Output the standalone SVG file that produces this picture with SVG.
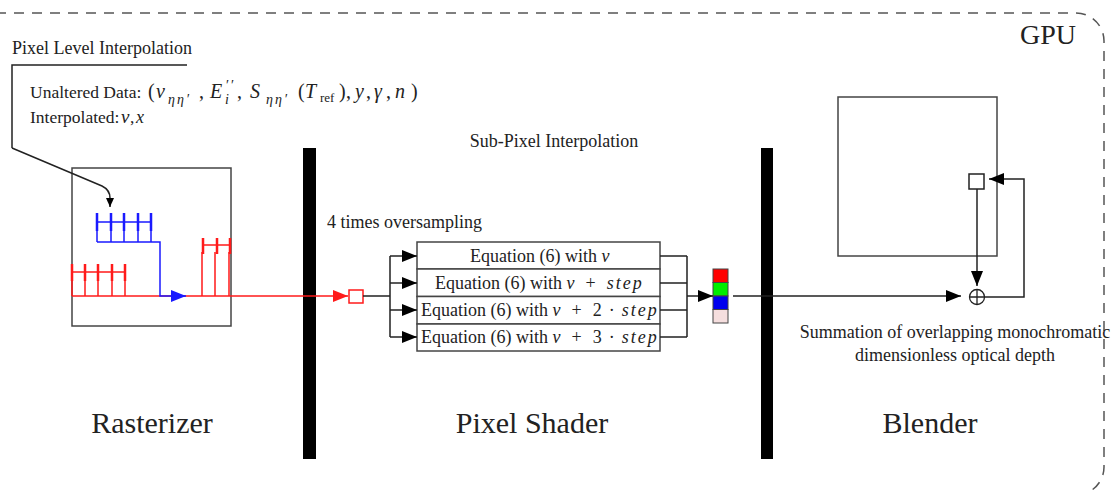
<svg xmlns="http://www.w3.org/2000/svg" width="1116" height="492" viewBox="0 0 1116 492">
<style>
text{font-family:"Liberation Serif","Times New Roman",serif;fill:#222}
.s17{font-size:17.5px}
.s18{font-size:18px}
.sub{font-size:14px;letter-spacing:2px}
.mm{font-size:20px;font-style:italic}
.big{font-size:30px}
.m{font-style:italic}
.ln{fill:none;stroke:#222;stroke-width:1.5}
.box{fill:#fff;stroke:#444;stroke-width:1.5}
.red{fill:none;stroke:#ff1a1a;stroke-width:1.5}
.redt{fill:none;stroke:#ff1a1a;stroke-width:2.5}
.blu{fill:none;stroke:#1a1aff;stroke-width:1.5}
.blut{fill:none;stroke:#1a1aff;stroke-width:2.5}
</style>
<defs>
<marker id="ak" markerUnits="userSpaceOnUse" markerWidth="15" markerHeight="12" refX="15" refY="6" orient="auto"><path d="M0,0 L15,6 L0,12 z" fill="#000"/></marker>
<marker id="ar" markerUnits="userSpaceOnUse" markerWidth="15" markerHeight="12" refX="15" refY="6" orient="auto"><path d="M0,0 L15,6 L0,12 z" fill="#ff1a1a"/></marker>
<marker id="ab" markerUnits="userSpaceOnUse" markerWidth="15" markerHeight="12" refX="15" refY="6" orient="auto"><path d="M0,0 L15,6 L0,12 z" fill="#1a1aff"/></marker>
<marker id="aks" markerUnits="userSpaceOnUse" markerWidth="9" markerHeight="8" refX="9" refY="4" orient="auto"><path d="M0,0 L9,4 L0,8 z" fill="#000"/></marker>
</defs>

<g id="gpu">
<rect x="-50" y="13" width="1154" height="482" rx="28" ry="28" fill="none" stroke="#555" stroke-width="1.5" stroke-dasharray="10 8"/>
<text x="1020" y="44" style="font-size:28px">GPU</text>
</g>

<g id="annotation">
<text x="12" y="54" class="s18">Pixel Level Interpolation</text>
<text class="s17"><tspan x="30" y="98">Unaltered Data:</tspan><tspan x="148" y="98" font-size="20">(</tspan><tspan class="mm" x="156" y="98">ν</tspan><tspan class="m sub" x="168" y="104">ηη′</tspan><tspan x="199" y="98" font-size="20">,</tspan><tspan class="mm" x="210" y="98">E</tspan><tspan class="sub" x="226" y="90">′′</tspan><tspan class="m sub" x="225" y="104">i</tspan><tspan x="237" y="98" font-size="20">,</tspan><tspan class="mm" x="250" y="98">S</tspan><tspan class="m sub" x="266" y="104">ηη′</tspan><tspan x="298" y="98" font-size="20">(</tspan><tspan class="mm" x="305" y="98">T</tspan><tspan x="320" y="102" style="font-size:13px;letter-spacing:0">ref</tspan><tspan x="339" y="98" font-size="20">)</tspan><tspan x="346" y="98" font-size="20">,</tspan><tspan class="mm" x="355" y="98">y</tspan><tspan x="366" y="98" font-size="20">,</tspan><tspan class="mm" x="374" y="98">γ</tspan><tspan x="386" y="98" font-size="20">,</tspan><tspan class="mm" x="395" y="98">n</tspan><tspan x="411" y="98" font-size="20">)</tspan></text>
<text class="s17"><tspan x="30" y="123">Interpolated:</tspan><tspan class="m" x="121" y="123" font-size="19">ν</tspan><tspan x="130" y="123">,</tspan><tspan class="m" x="136" y="123" font-size="18">x</tspan></text>
</g>

<g id="rasterizer">
<rect class="box" x="72" y="168" width="159" height="158"/>
<path class="blu" d="M97,222 H151 M97,222 V242 M111,222 V242 M124,222 V242 M138,222 V242 M151,222 V242"/>
<path class="blut" d="M97,213 V231 M111,213 V231 M124,213 V231 M138,213 V231 M151,213 V231"/>
<path class="red" d="M72,272 H125 M72,272 V296 M85,272 V296 M98,272 V296 M112,272 V296 M125,272 V296"/>
<path class="redt" d="M72,264 V281 M85,264 V281 M98,264 V281 M112,264 V281 M125,264 V281"/>
<path class="red" d="M203,245 H230 M202,252 V296 M215,252 V296 M229,252 V296"/>
<path class="redt" d="M203,238 V254 M217,238 V254 M230,238 V254"/>
<text x="152" y="433" text-anchor="middle" class="big">Rasterizer</text>
</g>

<g id="bar1"><rect x="303" y="148" width="13" height="311" fill="#000"/></g>
<g id="bar2"><rect x="761" y="148" width="12" height="311" fill="#000"/></g>

<g id="pixelshader">
<text x="554" y="147" text-anchor="middle" class="s18">Sub-Pixel Interpolation</text>
<text x="327" y="228" class="s18">4 times oversampling</text>
<rect class="box" x="417" y="242" width="243" height="27" stroke="#333"/>
<rect class="box" x="417" y="269" width="243" height="27.5" stroke="#333"/>
<rect class="box" x="417" y="296.5" width="243" height="27.5" stroke="#333"/>
<rect class="box" x="417" y="324" width="243" height="27" stroke="#333"/>
<text x="470" y="262" class="s18">Equation (6) with <tspan class="m">ν</tspan></text>
<text x="435" y="289" class="s18">Equation (6) with <tspan class="m">ν</tspan><tspan dx="11">+</tspan><tspan class="m" dx="11" letter-spacing="2">step</tspan></text>
<text x="421" y="316" class="s18">Equation (6) with <tspan class="m">ν</tspan><tspan dx="11">+</tspan><tspan dx="11">2</tspan><tspan dx="7">·</tspan><tspan class="m" dx="7" letter-spacing="2">step</tspan></text>
<text x="421" y="343" class="s18">Equation (6) with <tspan class="m">ν</tspan><tspan dx="11">+</tspan><tspan dx="11">3</tspan><tspan dx="7">·</tspan><tspan class="m" dx="7" letter-spacing="2">step</tspan></text>
<text x="532" y="433" text-anchor="middle" class="big">Pixel Shader</text>
</g>

<g id="sample"><rect x="349" y="290" width="14" height="13" fill="#fff" stroke="#ff1a1a" stroke-width="1.5"/></g>

<g id="swatch" stroke="#444" stroke-width="1">
<rect x="713" y="269" width="15" height="13.5" fill="#ff0000"/>
<rect x="713" y="282.5" width="15" height="13.5" fill="#00ee00"/>
<rect x="713" y="296" width="15" height="13.5" fill="#0000ee"/>
<rect x="713" y="309.5" width="15" height="13.5" fill="#f5dede"/>
</g>

<g id="blender">
<rect class="box" x="838" y="97" width="159" height="159"/>
<rect x="969" y="174" width="15" height="15" fill="#fff" stroke="#222" stroke-width="1.5"/>
<circle cx="977" cy="297" r="7.5" fill="#fff" stroke="#222" stroke-width="1.3"/>
<path d="M969.5,297 H984.5 M977,289.5 V304.5" stroke="#222" stroke-width="1.3"/>
<text x="955" y="338" text-anchor="middle" class="s18">Summation of overlapping monochromatic</text>
<text x="955" y="361" text-anchor="middle" class="s18">dimensionless optical depth</text>
<text x="930" y="433" text-anchor="middle" class="big">Blender</text>
</g>

<g id="connectors">
<path class="ln" d="M12,148 V65 H187" stroke="#333"/>
<path class="ln" d="M12,148 L102,186 Q110,190 110,198 V207" marker-end="url(#aks)"/>
<path class="red" d="M72,296 H348" marker-end="url(#ar)"/>
<path class="blu" d="M97,242 H160 V296 H186" marker-end="url(#ab)"/>
<path class="ln" d="M363,296 H390 M390,256 V337"/>
<path class="ln" d="M390,256 H417" marker-end="url(#ak)"/>
<path class="ln" d="M390,283 H417" marker-end="url(#ak)"/>
<path class="ln" d="M390,310 H417" marker-end="url(#ak)"/>
<path class="ln" d="M390,337 H417" marker-end="url(#ak)"/>
<path class="ln" d="M660,256 H687 M660,283 H687 M660,310 H687 M660,337 H687 M687,256 V337"/>
<path class="ln" d="M687,296 H713" marker-end="url(#ak)"/>
<path class="ln" d="M733,296 H961" marker-end="url(#ak)"/>
<path class="ln" d="M977,189 V286" marker-end="url(#ak)"/>
<path class="ln" d="M985,297 H1024 V179 H989" marker-end="url(#ak)"/>
</g>
</svg>
